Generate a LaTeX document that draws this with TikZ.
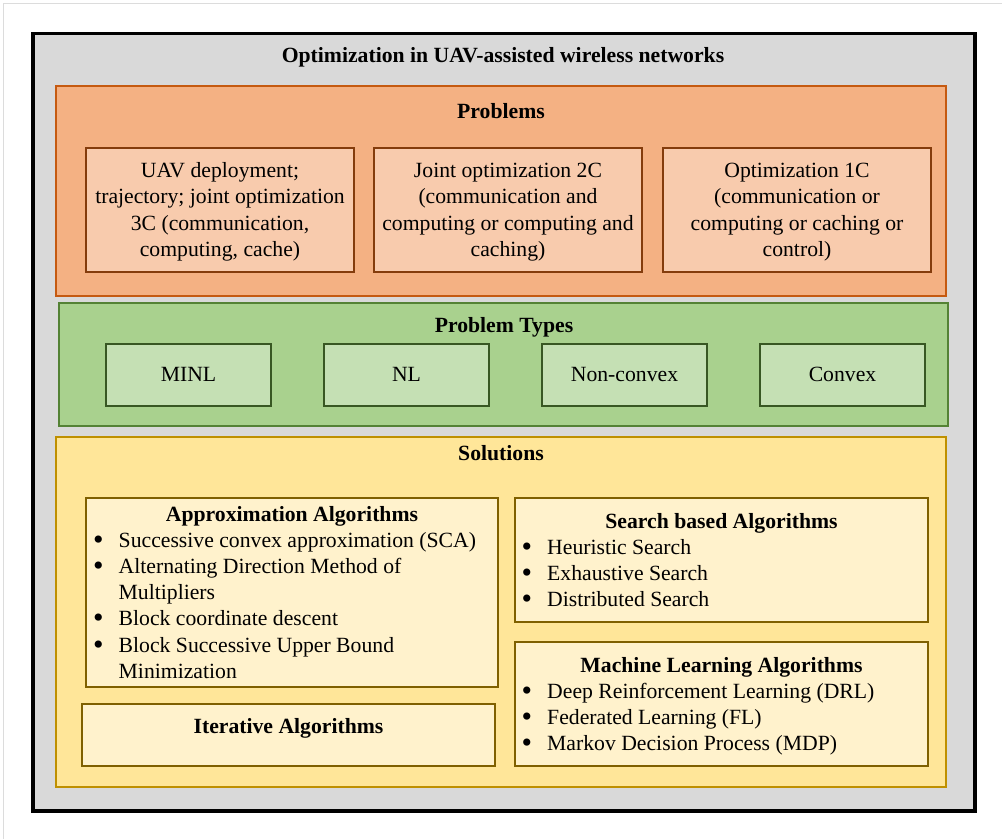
\documentclass[tikz,border=0pt]{standalone}
\usepackage{fontspec}
\setmainfont{Liberation Serif}
\newcommand\bodyfont{\fontsize{21.7}{26.2}\selectfont}
\newcommand\blt{\makebox[25.5pt][l]{\smash{\raisebox{-2pt}{\fontsize{30}{26.2}\selectfont •}}}}
\newcommand\hang{\hspace*{25.5pt}}
\definecolor{frameGray}{HTML}{D9D9D9}
\definecolor{edgeGray}{HTML}{DCDCDC}
\definecolor{probFill}{HTML}{F4B183}
\definecolor{probDraw}{HTML}{C55A11}
\definecolor{probInFill}{HTML}{F8CBAD}
\definecolor{probInDraw}{HTML}{843C0C}
\definecolor{typeFill}{HTML}{A9D18E}
\definecolor{typeDraw}{HTML}{548235}
\definecolor{typeInFill}{HTML}{C5E0B4}
\definecolor{typeInDraw}{HTML}{385723}
\definecolor{solFill}{HTML}{FFE699}
\definecolor{solDraw}{HTML}{BF9000}
\definecolor{solInFill}{HTML}{FFF2CC}
\definecolor{solInDraw}{HTML}{7F6000}
\tikzset{
  panel/.style={draw, line width=2.5pt},
  innerbox/.style={draw, line width=2pt},
  heading/.style={anchor=base, inner sep=0pt, font=\bodyfont\bfseries},
  label/.style={anchor=base, inner sep=0pt},
  para/.style={anchor=north, inner sep=0pt, align=center},
  itemlist/.style={anchor=north west, inner sep=0pt, align=left},
}
\begin{document}
\begin{tikzpicture}[x=1pt, y=-1pt, font=\bodyfont]
\useasboundingbox (0,0) rectangle (1002,839);
\fill[white] (0,0) rectangle (1002,839);
\draw[edgeGray, line width=1pt] (3,839) -- (3,3) -- (1002,3);

% outer frame
\draw[fill=frameGray, line width=3.5pt] (33,33.5) rectangle (975,811);
\node[heading] (title) at (503,62) {Optimization in UAV-assisted wireless networks};

% problems
\draw[panel, draw=probDraw, fill=probFill] (56,86) rectangle (946,296);
\node[heading] (problems) at (501,118) {Problems};
\draw[innerbox, draw=probInDraw, fill=probInFill] (86,148) rectangle (354,272);
\draw[innerbox, draw=probInDraw, fill=probInFill] (374,148) rectangle (642,272);
\draw[innerbox, draw=probInDraw, fill=probInFill] (663,148) rectangle (931,272);
\node[para] (p1) at (220,159.2) {\strut UAV deployment;\\\strut trajectory; joint optimization\\\strut 3C (communication,\\\strut computing, cache)};
\node[para] (p2) at (508,159.2) {\strut Joint optimization 2C\\\strut (communication and\\\strut computing or computing and\\\strut caching)};
\node[para] (p3) at (797,159.2) {\strut Optimization 1C\\\strut (communication or\\\strut computing or caching or\\\strut control)};

% problem types
\draw[panel, draw=typeDraw, fill=typeFill] (59,303) rectangle (948,426);
\node[heading] (types) at (504,332) {Problem Types};
\draw[innerbox, draw=typeInDraw, fill=typeInFill] (106,344) rectangle (271,406);
\draw[innerbox, draw=typeInDraw, fill=typeInFill] (324,344) rectangle (489,406);
\draw[innerbox, draw=typeInDraw, fill=typeInFill] (542,344) rectangle (707,406);
\draw[innerbox, draw=typeInDraw, fill=typeInFill] (760,344) rectangle (925,406);
\node[label] (minl) at (188.5,381.5) {MINL};
\node[label] (nl) at (406.5,381.5) {NL};
\node[label] (nonconvex) at (624.5,381.5) {Non-convex};
\node[label] (convex) at (842.5,381.5) {Convex};

% solutions
\draw[panel, draw=solDraw, fill=solFill] (56,437) rectangle (946,787);
\node[heading] (solutions) at (501,460) {Solutions};
\draw[innerbox, draw=solInDraw, fill=solInFill] (86,498) rectangle (498,687);
\draw[innerbox, draw=solInDraw, fill=solInFill] (82,704) rectangle (495,766);
\draw[innerbox, draw=solInDraw, fill=solInFill] (515,498) rectangle (928,622);
\draw[innerbox, draw=solInDraw, fill=solInFill] (515,642) rectangle (928,766);

\node[heading] (approx) at (292,521) {Approximation Algorithms};
\node[itemlist] (approxlist) at (93,528.7) {%
\strut\blt Successive convex approximation (SCA)\\
\strut\blt Alternating Direction Method of\\
\strut\hang Multipliers\\
\strut\blt Block coordinate descent\\
\strut\blt Block Successive Upper Bound\\
\strut\hang Minimization};

\node[heading] (iter) at (288.5,733) {Iterative Algorithms};

\node[heading] (search) at (721.5,528) {Search based Algorithms};
\node[itemlist] (searchlist) at (521.5,536) {%
\strut\blt Heuristic Search\\
\strut\blt Exhaustive Search\\
\strut\blt Distributed Search};

\node[heading] (ml) at (721.5,672) {Machine Learning Algorithms};
\node[itemlist] (mllist) at (521.5,680) {%
\strut\blt Deep Reinforcement Learning (DRL)\\
\strut\blt Federated Learning (FL)\\
\strut\blt Markov Decision Process (MDP)};
\end{tikzpicture}
\end{document}
